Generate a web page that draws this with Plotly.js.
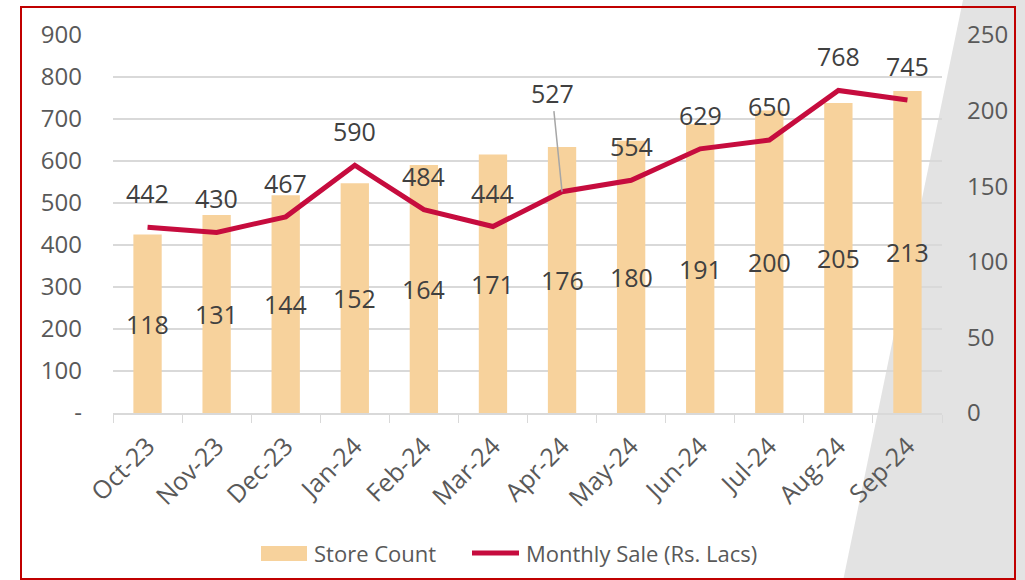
<!DOCTYPE html>
<html><head><meta charset="utf-8">
<script src="https://cdn.plot.ly/plotly-3.0.1.min.js"></script>
<style>html,body{margin:0;padding:0;background:#fff;}#chart{width:1025px;height:580px;}</style>
</head><body><div id="chart"></div>
<script>
const months = ['Oct-23','Nov-23','Dec-23','Jan-24','Feb-24','Mar-24','Apr-24','May-24','Jun-24','Jul-24','Aug-24','Sep-24'];
const storeCount = [118,131,144,152,164,171,176,180,191,200,205,213];
const monthlySale = [442,430,467,590,484,444,527,554,629,650,768,745];
const leftTickVals = [0,100,200,300,400,500,600,700,800,900];
const leftTickText = ['-','100','200','300','400','500','600','700','800','900'];
const seriesNames = ['Store Count', 'Monthly Sale (Rs. Lacs)'];

const W = 1025, H = 580;
const M = {l:113, r:83, t:35, b:167, autoexpand: false};
const pw = W - M.l - M.r, ph = H - M.t - M.b;
const px = x => (x - M.l) / pw;
const py = y => (H - M.b - y) / ph;

const FONT = 'Open Sans, Noto Sans, sans-serif';
const tickFont = {family: FONT, size: 24, color: '#595959'};
const xTickFont = {family: FONT, size: 25, color: '#595959'};
const labelFont = {family: FONT, size: 25, color: '#404040'};
const legendFont = {family: FONT, size: 22, color: '#595959'};
const BAR_COLOR = '#F7D29C', LINE_COLOR = '#C60C3E';

const bars = {
  type: 'bar', name: seriesNames[0], x: months, y: storeCount,
  marker: {color: BAR_COLOR}, yaxis: 'y', hoverinfo: 'skip', showlegend: false
};
const line = {
  type: 'scatter', mode: 'lines', name: seriesNames[1], x: months, y: monthlySale,
  line: {color: LINE_COLOR, width: 5}, yaxis: 'y2', hoverinfo: 'skip', showlegend: false
};

// bar value labels, centred in each bar
const annotations = months.map((m, i) => ({
  x: m, y: storeCount[i] / 2, xref: 'x', yref: 'y', text: String(storeCount[i]),
  showarrow: false, yshift: 0, font: labelFont
}));
// line value labels above each point
months.forEach((m, i) => {
  if (m === 'Apr-24') {
    annotations.push({x: m, y: monthlySale[i], xref: 'x', yref: 'y2', text: String(monthlySale[i]),
      showarrow: true, arrowhead: 0, arrowwidth: 1.5, arrowcolor: '#A6A6A6', ax: -10, ay: -99,
      standoff: 0, font: labelFont});
  } else {
    annotations.push({x: m, y: monthlySale[i], xref: 'x', yref: 'y2', text: String(monthlySale[i]),
      showarrow: false, yshift: 34, font: labelFont});
  }
});
// legend (drawn manually to match swatch sizes)
annotations.push({xref: 'paper', yref: 'paper', x: px(312), y: py(553), xanchor: 'left', yanchor: 'middle',
  text: seriesNames[0], showarrow: false, font: legendFont});
annotations.push({xref: 'paper', yref: 'paper', x: px(524), y: py(553), xanchor: 'left', yanchor: 'middle',
  text: seriesNames[1], showarrow: false, font: legendFont});

const layout = {
  width: W, height: H,
  margin: M,
  paper_bgcolor: 'rgba(0,0,0,0)', plot_bgcolor: 'rgba(0,0,0,0)',
  font: {family: FONT},
  bargap: 0.59,
  showlegend: false,
  xaxis: {type: 'category', range: [-0.5, months.length - 0.5], tickangle: -45, tickfont: xTickFont,
    showline: true, linecolor: '#D9D9D9', ticklabelstandoff: 7,
    linewidth: 1.5, ticks: 'outside', tickson: 'boundaries', ticklen: 8, tickcolor: '#D9D9D9',
    showgrid: false, fixedrange: true, automargin: false},
  yaxis: {side: 'right', range: [0, 250], dtick: 50, tickfont: tickFont, showgrid: false,
    zeroline: false, ticklabelstandoff: 24, fixedrange: true, automargin: false},
  yaxis2: {side: 'left', overlaying: 'y', range: [0, 900], tickvals: leftTickVals, ticktext: leftTickText,
    tickfont: tickFont, showgrid: true, gridcolor: '#D9D9D9', gridwidth: 1.5, zeroline: false,
    ticklabelstandoff: 30, fixedrange: true, automargin: false},
  shapes: [
    {type: 'path', xref: 'paper', yref: 'paper', layer: 'below',
      path: `M ${px(963)} ${py(0)} L ${px(1026)} ${py(0)} L ${px(1026)} ${py(581)} L ${px(843)} ${py(581)} Z`,
      fillcolor: '#E3E3E3', line: {width: 0}},
    {type: 'rect', xref: 'paper', yref: 'paper', layer: 'above',
      x0: px(21), x1: px(1015), y0: py(579), y1: py(7),
      line: {color: '#C00000', width: 2}, fillcolor: 'rgba(0,0,0,0)'},
    {type: 'rect', xref: 'paper', yref: 'paper', x0: px(261), x1: px(307), y0: py(561), y1: py(546),
      fillcolor: BAR_COLOR, line: {width: 0}},
    {type: 'line', xref: 'paper', yref: 'paper', x0: px(472), x1: px(519), y0: py(553), y1: py(553),
      line: {color: LINE_COLOR, width: 5}}
  ],
  annotations: annotations
};

Plotly.newPlot('chart', [bars, line], layout, {displayModeBar: false, staticPlot: true});
</script>
</body></html>
